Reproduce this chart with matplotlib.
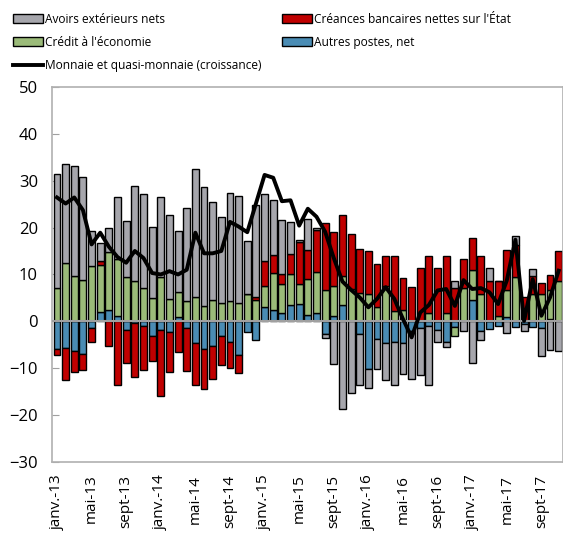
import numpy as np
import matplotlib
matplotlib.use("Agg")
from matplotlib import pyplot as plt
from matplotlib.patches import Patch
from matplotlib.lines import Line2D

plt.rcParams['font.family'] = ['Open Sans', 'DejaVu Sans']

# mois de janv.-13 à nov.-17
mois = ['janv.', 'févr.', 'mars', 'avr.', 'mai', 'juin', 'juil.', 'août',
        'sept', 'oct.', 'nov.', 'déc.']
periodes = [f'{mois[i % 12]}-{13 + i // 12}' for i in range(59)]

avoirs_ext = [24.4, 21.1, 23.6, 22.0, 7.4, 3.8, 5.2, 13.2, 11.9, 20.1,
              19.9, 15.2, 17.1, 17.9, 13.0, 19.8, 27.3, 25.3, 20.8, 18.3,
              23.1, 22.8, 11.4, 19.8, 14.3, 11.7, 11.6, 6.8, 0.4, 6.6,
              0.3, -1.0, -9.1, -18.6, -15.3, -10.8, -3.9, -6.4, -7.8, -9.3,
              -6.4, -9.8, -10.0, -12.7, -2.5, -1.1, 1.6, -2.0, -8.8, -1.9,
              2.8, 0.0, -2.4, 1.9, -1.4, 1.4, -5.9, -6.1, -6.3]
creances_etat = [-1.2, -6.9, -4.5, -3.4, -2.9, 0.9, -5.3, -13.5, -7.0, -11.4,
                 -9.4, -5.2, -13.9, -8.5, -6.6, -9.1, -8.8, -8.6, -7.0, -6.2,
                 -5.7, -3.9, 0.0, 0.6, 5.3, 3.8, 2.1, 4.3, 9.0, 6.2,
                 8.9, 14.4, 11.4, 13.0, 11.8, 9.5, 9.1, 9.1, 6.3, 11.7,
                 6.8, 7.4, 11.4, 12.3, 11.4, 12.2, 7.1, 6.1, 6.8, 8.1,
                 8.5, 7.6, 8.7, 6.8, 5.3, 3.9, 2.3, 3.2, 6.5]
credit_eco = [7.1, 12.4, 9.6, 8.8, 11.8, 10.1, 12.3, 12.1, 9.4, 8.7,
              7.2, 4.9, 9.4, 4.8, 5.2, 4.4, 5.1, 3.3, 4.6, 3.9,
              4.3, 3.9, 5.8, 4.5, 4.6, 8.0, 6.3, 6.6, 4.3, 7.6,
              8.9, 6.6, 6.4, 6.0, 6.9, 6.0, 5.8, 3.1, 7.6, 2.3,
              2.4, -0.5, 0.0, 1.7, 0.0, 1.8, -2.1, 7.1, 6.3, 5.8,
              0.0, 1.1, 5.7, 9.4, 0.0, 5.8, 5.8, 6.2, 8.5]
autres_postes = [-5.9, -5.6, -6.3, -7.0, -1.4, 1.9, 2.4, 1.2, -1.8, -0.4,
                 -1.0, -3.2, -1.9, -2.3, 1.0, -1.4, -4.7, -5.9, -5.3, -3.1,
                 -4.3, -7.1, -2.2, -4.0, 3.0, 2.4, 1.7, 3.5, 3.7, 1.4,
                 1.7, -2.6, 1.2, 3.6, 0.0, -2.7, -10.2, -3.8, -4.7, -4.3,
                 -4.7, -2.0, -1.5, -0.9, -1.8, -4.3, -1.1, 0.0, 4.6, -2.1,
                 -1.6, -0.9, 0.9, -1.1, -0.6, -1.1, -1.4, 0.5, 0.0]
monnaie = [26.4, 25.1, 26.4, 23.7, 16.4, 18.9, 15.9, 13.7, 12.5, 15.0,
           13.5, 10.3, 10.0, 10.7, 10.0, 11.0, 18.9, 14.5, 14.5, 15.0,
           21.2, 20.2, 19.0, 25.1, 31.2, 30.6, 25.6, 25.8, 20.4, 24.0,
           22.3, 19.1, 13.5, 8.5, 6.7, 5.1, 3.0, 4.8, 7.3, 4.8,
           0.5, -3.4, 1.9, 3.5, 6.6, 6.9, 3.3, 8.8, 6.9, 7.1,
           6.2, 3.7, 8.7, 17.4, 0.1, 9.0, 1.2, 5.1, 10.8]

series = [
    (autres_postes, '#4A8CB4', 'Autres postes, net'),
    (credit_eco, '#9BBB79', "Crédit à l'économie"),
    (creances_etat, '#C00000', "Créances bancaires nettes sur l'État"),
    (avoirs_ext, '#A6A6AC', 'Avoirs extérieurs nets'),
]

x = np.arange(len(periodes))
fig = plt.figure(figsize=(5.63, 5.35), dpi=100)
ax = fig.add_axes([0.092, 0.136, 0.908, 0.702])

pos = np.zeros(len(x))
neg = np.zeros(len(x))
handles = {}
for vals, col, lab in series:
    v = np.array(vals)
    base = np.where(v >= 0, pos, neg)
    ax.bar(x, v, 0.8, bottom=base, color=col, edgecolor='black',
           linewidth=1.0, zorder=2)
    pos += np.where(v >= 0, v, 0)
    neg += np.where(v < 0, v, 0)
    handles[lab] = Patch(facecolor=col, edgecolor='black', linewidth=1.0)

ax.axhline(0, color='#A0A0A0', linewidth=1.5, zorder=3)
ax.plot(x, monnaie, color='black', linewidth=2.8, zorder=4)

ax.set_ylim(-30, 50)
ax.set_yticks(range(-30, 51, 10))
ax.set_xlim(-0.6, len(x) - 0.5)
ax.set_xticks(x[::4])
ax.set_xticklabels(periodes[::4], rotation=90, fontsize=11)
ax.tick_params(axis='x', length=0, pad=9)
ax.tick_params(axis='y', direction='in', length=5, color='#A0A0A0',
               labelsize=12, pad=10)
for s in ax.spines.values():
    s.set_color('#B0B0B0')
    s.set_linewidth(1.2)

line_h = Line2D([0], [0], color='black', linewidth=2.8)
order = [handles['Avoirs extérieurs nets'], handles["Crédit à l'économie"], line_h,
         handles["Créances bancaires nettes sur l'État"], handles['Autres postes, net']]
labels = ['Avoirs extérieurs nets', "Crédit à l'économie",
          'Monnaie et quasi-monnaie (croissance)',
          "Créances bancaires nettes sur l'État", 'Autres postes, net']
fig.legend(order, labels, loc='upper left', bbox_to_anchor=(0.01, 0.99), ncol=2,
           frameon=False, fontsize=8.6, handlelength=2.5, handleheight=0.75,
           handletextpad=0.2, columnspacing=1.7, labelspacing=0.85,
           borderaxespad=0.2)

fig.savefig('out.png', dpi=100)
